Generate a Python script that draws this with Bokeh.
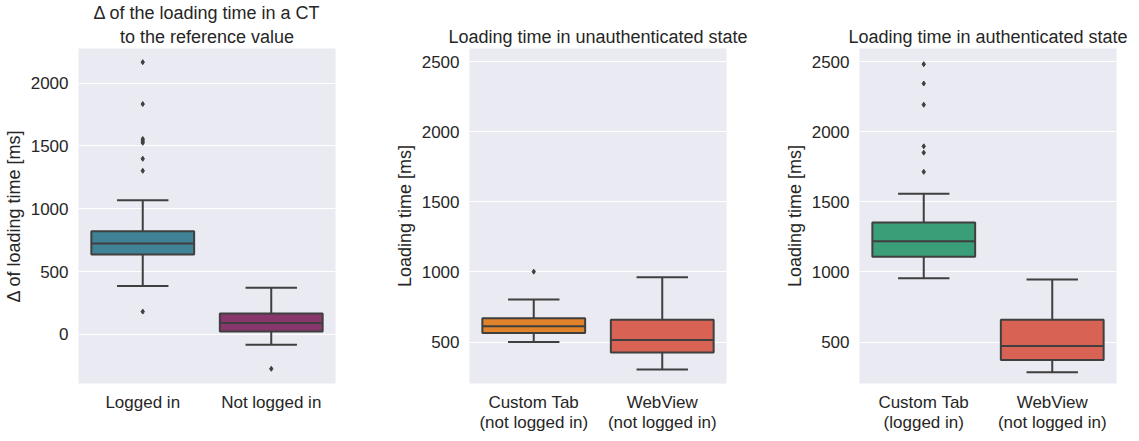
from bokeh.plotting import figure
from bokeh.models import ColumnDataSource, Range1d, FactorRange, FixedTicker, Title
from bokeh.layouts import row
from bokeh.transform import dodge
from bokeh.embed import file_html
from bokeh.resources import INLINE

# ---- data ----
p1_cats = ["Logged in", "Not logged in"]
p1_q1 = [637, 23]
p1_med = [723, 91]
p1_q3 = [822, 166]
p1_lo = [385, -81]
p1_hi = [1067, 372]
p1_out_cat = ["Logged in"] * 8 + ["Not logged in"]
p1_out_val = [2166, 1833, 1555, 1540, 1525, 1398, 1302, 182, -273]

p2_cats = ["Custom Tab\n(not logged in)", "WebView\n(not logged in)"]
p2_q1 = [565, 425]
p2_med = [612, 514]
p2_q3 = [670, 659]
p2_lo = [500, 304]
p2_hi = [803, 962]
p2_out_cat = ["Custom Tab\n(not logged in)"]
p2_out_val = [1002]

p3_cats = ["Custom Tab\n(logged in)", "WebView\n(not logged in)"]
p3_q1 = [1109, 372]
p3_med = [1219, 472]
p3_q3 = [1352, 659]
p3_lo = [955, 285]
p3_hi = [1557, 946]
p3_out_cat = ["Custom Tab\n(logged in)"] * 6
p3_out_val = [2482, 2344, 2193, 1896, 1851, 1714]

TEXT = "#262626"
EDGE = "#3f3f3f"
FONT = "Liberation Sans"
TITLE_SIZE = "18px"


def panel(titles, ylabel, cats, q1, med, q3, lo, hi, out_cat, out_val, colors,
          yrange, ticks, bl, br):
    p = figure(x_range=FactorRange(*cats), y_range=Range1d(*yrange),
               frame_width=257, frame_height=335, output_backend="svg",
               toolbar_location=None, min_border_left=bl, min_border_right=br,
               min_border_top=46, min_border_bottom=44)
    # titles: p.title is the top line, added Titles go below it
    p.title.text = titles[0]
    p.title.align = "center"
    p.title.text_font = FONT
    p.title.text_font_size = TITLE_SIZE
    p.title.text_font_style = "normal"
    p.title.text_color = TEXT
    p.title.standoff = 4 if len(titles) == 1 else 0
    for t in titles[1:]:
        p.add_layout(Title(text=t, align="center", text_font=FONT,
                           text_font_size=TITLE_SIZE, text_font_style="normal",
                           text_color=TEXT, standoff=4), "above")
    p.background_fill_color = "#eaeaf2"
    p.border_fill_color = "white"
    p.outline_line_color = None
    p.xgrid.grid_line_color = None
    p.ygrid.grid_line_color = "white"
    p.ygrid.grid_line_width = 1.2
    p.yaxis.ticker = FixedTicker(ticks=ticks)
    p.yaxis.axis_label = ylabel
    for ax in (p.xaxis[0], p.yaxis[0]):
        ax.axis_line_color = None
        ax.major_tick_line_color = None
        ax.minor_tick_line_color = None
        ax.major_tick_out = 0
        ax.major_tick_in = 0
        ax.minor_tick_out = 0
        ax.major_label_text_font = FONT
        ax.major_label_text_font_size = "17px"
        ax.major_label_text_color = TEXT
        ax.axis_label_text_font = FONT
        ax.axis_label_text_font_size = "18px"
        ax.axis_label_text_font_style = "normal"
        ax.axis_label_text_color = TEXT
    p.yaxis.major_label_standoff = 10
    p.yaxis.axis_label_standoff = 4
    p.xaxis.major_label_standoff = 9
    p.xaxis.major_label_text_line_height = 1.1

    src = ColumnDataSource(dict(cat=cats, q1=q1, med=med, q3=q3, lo=lo, hi=hi,
                                color=colors))
    # whiskers
    p.segment(x0="cat", x1="cat", y0="q3", y1="hi", source=src,
              line_color=EDGE, line_width=2)
    p.segment(x0="cat", x1="cat", y0="q1", y1="lo", source=src,
              line_color=EDGE, line_width=2)
    # caps
    xl = dodge("cat", -0.2, range=p.x_range)
    xr = dodge("cat", 0.2, range=p.x_range)
    p.segment(x0=xl, x1=xr, y0="hi", y1="hi", source=src,
              line_color=EDGE, line_width=2)
    p.segment(x0=xl, x1=xr, y0="lo", y1="lo", source=src,
              line_color=EDGE, line_width=2)
    # boxes
    p.vbar(x="cat", top="q3", bottom="q1", width=0.8, source=src,
           fill_color="color", line_color=EDGE, line_width=2)
    # medians
    ml = dodge("cat", -0.4, range=p.x_range)
    mr = dodge("cat", 0.4, range=p.x_range)
    p.segment(x0=ml, x1=mr, y0="med", y1="med", source=src,
              line_color=EDGE, line_width=2)
    # outliers
    osrc = ColumnDataSource(dict(cat=out_cat, val=out_val))
    p.scatter(x="cat", y="val", source=osrc, marker="diamond", size=5,
              fill_color=EDGE, line_color=EDGE)
    return p


f1 = panel(["Δ of the loading time in a CT", "to the reference value"],
           "Δ of loading time [ms]", p1_cats, p1_q1, p1_med, p1_q3, p1_lo,
           p1_hi, p1_out_cat, p1_out_val, ["#408296", "#87376b"],
           (-390, 2275), [0, 500, 1000, 1500, 2000], 78, 56)
f2 = panel(["Loading time in unauthenticated state"], "Loading time [ms]",
           p2_cats, p2_q1, p2_med, p2_q3, p2_lo, p2_hi, p2_out_cat,
           p2_out_val, ["#e0832b", "#d86253"], (204, 2594),
           [500, 1000, 1500, 2000, 2500], 76, 55)
f3 = panel(["Loading time in authenticated state"], "Loading time [ms]",
           p3_cats, p3_q1, p3_med, p3_q3, p3_lo, p3_hi, p3_out_cat,
           p3_out_val, ["#3a9e78", "#d86253"], (204, 2594),
           [500, 1000, 1500, 2000, 2500], 74, 13)

layout = row(f1, f2, f3)
open("out.html", "w").write(file_html(layout, INLINE))
